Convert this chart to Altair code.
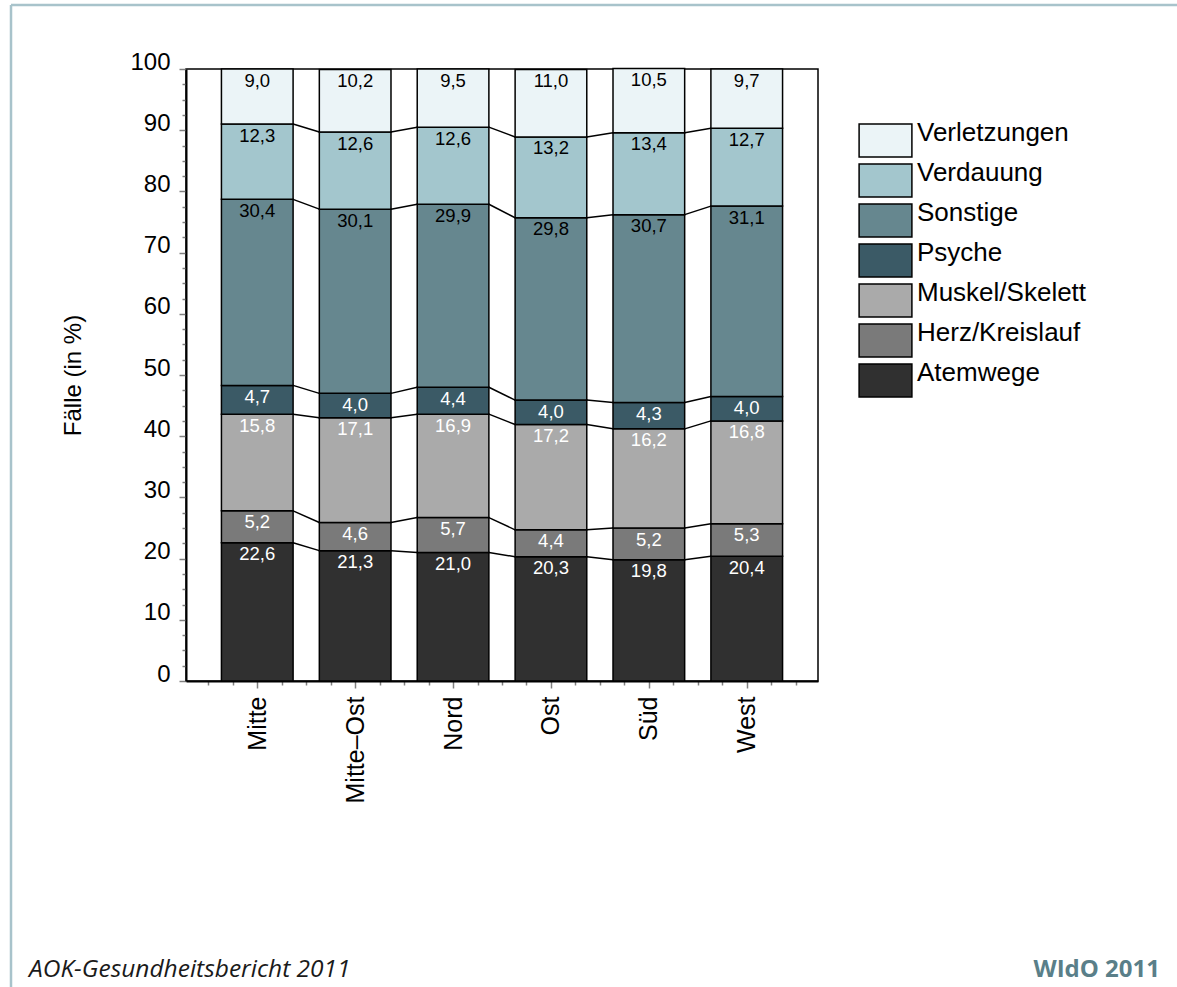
import json

import altair as alt
import pandas as pd

# Regions along the x axis
regions = ["Mitte", "Mitte–Ost", "Nord", "Ost", "Süd", "West"]

# Diagnosis groups, bottom of the stack first
groups = ["Atemwege", "Herz/Kreislauf", "Muskel/Skelett", "Psyche",
          "Sonstige", "Verdauung", "Verletzungen"]
group_colors = ["#303030", "#7a7a7a", "#aaaaaa", "#3b5a66",
                "#66878f", "#a3c6cd", "#ebf4f7"]
label_colors = ["white", "white", "white", "white", "black", "black", "black"]

# Share of cases per group (in %), one value per region
atemwege = [22.6, 21.3, 21.0, 20.3, 19.8, 20.4]
herz_kreislauf = [5.2, 4.6, 5.7, 4.4, 5.2, 5.3]
muskel_skelett = [15.8, 17.1, 16.9, 17.2, 16.2, 16.8]
psyche = [4.7, 4.0, 4.4, 4.0, 4.3, 4.0]
sonstige = [30.4, 30.1, 29.9, 29.8, 30.7, 31.1]
verdauung = [12.3, 12.6, 12.6, 13.2, 13.4, 12.7]
verletzungen = [9.0, 10.2, 9.5, 11.0, 10.5, 9.7]

series = [atemwege, herz_kreislauf, muskel_skelett, psyche,
          sonstige, verdauung, verletzungen]

HALF = 0.366  # half bar width in x units (one unit per region)

# Stacked segments
rows = []
tops = [[0.0] * len(regions) for _ in groups]
for i, region in enumerate(regions):
    cum = 0.0
    for k, g in enumerate(groups):
        v = series[k][i]
        rows.append({
            "region": region, "group": g, "idx": i,
            "xl": i - HALF, "xr": i + HALF,
            "y0": cum, "y1": cum + v,
            "label": f"{v:.1f}".replace(".", ","),
            "tc": label_colors[k],
        })
        cum += v
        tops[k][i] = cum
segments = pd.DataFrame(rows)

# Connector lines between neighbouring bars at each segment boundary
links = []
for k in range(len(groups) - 1):
    for i in range(len(regions) - 1):
        links.append({
            "xa": i + HALF, "xb": i + 1 - HALF,
            "ya": tops[k][i], "yb": tops[k][i + 1],
        })
links = pd.DataFrame(links)

FONT = "Liberation Sans"
FOOT_FONT = "Open Sans"

x_scale = alt.Scale(domain=[-0.728, 5.728], nice=False, zero=False)
y_scale = alt.Scale(domain=[0, 100], nice=False)

x_ticks = [v / 4 for v in range(-2, 23)]
y_ticks = [v * 2.5 for v in range(0, 41)]

x_axis = alt.Axis(
    values=x_ticks,
    labelExpr=f"datum.value % 1 === 0 ? {json.dumps(regions, ensure_ascii=False)}[datum.value] : ''",
    labelAngle=-90,
    labelFontSize=25,
    labelPadding=8,
    labelOverlap=False,
    labelFlush=False,
    tickSize={"condition": {"test": "datum.value % 1 === 0", "value": 7}, "value": 4},
    grid=False,
    title=None,
)
y_axis = alt.Axis(
    values=y_ticks,
    labelExpr="datum.value % 10 === 0 ? datum.label : ''",
    labelFontSize=24,
    labelPadding=9,
    labelBaseline="alphabetic",
    labelOverlap=False,
    labelFlush=False,
    tickSize={"condition": {"test": "datum.value % 10 === 0", "value": 7}, "value": 4},
    grid=False,
    title="Fälle (in %)",
    titleFontSize=24,
    titleFontWeight="normal",
    titlePadding=44,
)

legend = alt.Legend(
    title=None,
    values=groups[::-1],
    orient="none",
    legendX=682,
    legendY=54,
    padding=0,
    symbolType="M-1.6,-1H1.6V1H-1.6Z",
    symbolSize=1089,
    symbolStrokeColor="black",
    symbolStrokeWidth=1.5,
    symbolOpacity=1,
    labelFontSize=26,
    labelOffset=14,
    labelBaseline="alphabetic",
    rowPadding=-1,
    labelLimit=400,
)

bars = alt.Chart(segments).mark_rect(stroke="black", strokeWidth=1.5, opacity=1).encode(
    x=alt.X("xl:Q", scale=x_scale, axis=x_axis),
    x2="xr:Q",
    y=alt.Y("y0:Q", scale=y_scale, axis=y_axis),
    y2="y1:Q",
    color=alt.Color("group:N", scale=alt.Scale(domain=groups, range=group_colors),
                    legend=legend),
)

values_text = alt.Chart(segments).mark_text(
    font=FONT, fontSize=18.5, baseline="alphabetic", align="center", dy=17.5
).encode(
    x=alt.X("idx:Q", scale=x_scale, axis=x_axis),
    y=alt.Y("y1:Q", scale=y_scale, axis=y_axis),
    text="label:N",
    color=alt.Color("tc:N", scale=None),
)

connectors = alt.Chart(links).mark_rule(color="black", strokeWidth=1.5).encode(
    x=alt.X("xa:Q", scale=x_scale, axis=x_axis),
    x2="xb:Q",
    y=alt.Y("ya:Q", scale=y_scale, axis=y_axis),
    y2="yb:Q",
)

one = pd.DataFrame({"k": [0]})
FRAME = "#a8c3cb"
frame_top = alt.Chart(one).mark_rule(color=FRAME, strokeWidth=2.5).encode(
    x=alt.value(-175), x2=alt.value(991), y=alt.value(-64)
)
frame_left = alt.Chart(one).mark_rule(color=FRAME, strokeWidth=2.5).encode(
    x=alt.value(-175), y=alt.value(-64), y2=alt.value(918)
)

source_left = alt.Chart(pd.DataFrame({"t": ["AOK-Gesundheitsbericht 2011"]})).mark_text(
    align="left", baseline="alphabetic", font=FOOT_FONT,
    fontStyle="italic", fontSize=24.5, color="#1a1a1a"
).encode(x=alt.value(-157), y=alt.value(908), text="t:N")

source_right = alt.Chart(pd.DataFrame({"t": ["WIdO 2011"]})).mark_text(
    align="right", baseline="alphabetic", font=FOOT_FONT,
    fontWeight="bold", fontSize=24, color="#5a7f89"
).encode(x=alt.value(974), y=alt.value(908), text="t:N")

chart = alt.layer(
    frame_top, frame_left, bars, connectors, values_text, source_left, source_right
).properties(
    width=632,
    height=612,
    autosize="none",
    padding={"left": 186, "top": 69, "right": 359, "bottom": 306},
).configure(
    font=FONT,
    background="white",
).configure_view(
    stroke="black", strokeWidth=1.5
).configure_axis(
    domainColor="black",
    domainWidth=2,
    tickColor="#808080",
    tickWidth=1.5,
    labelColor="black",
    titleColor="black",
    labelFont=FONT,
    titleFont=FONT,
).configure_legend(
    labelFont=FONT,
    labelColor="black",
)

chart.save("out.html", embed_options={"renderer": "svg", "actions": False})
